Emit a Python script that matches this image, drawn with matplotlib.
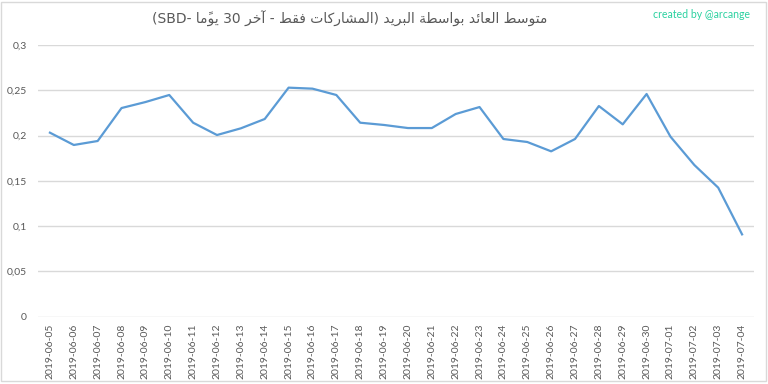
import matplotlib
matplotlib.use("Agg")
import matplotlib.pyplot as plt
from matplotlib.patches import Rectangle

dates = ["2019-06-05", "2019-06-06", "2019-06-07", "2019-06-08", "2019-06-09",
         "2019-06-10", "2019-06-11", "2019-06-12", "2019-06-13", "2019-06-14",
         "2019-06-15", "2019-06-16", "2019-06-17", "2019-06-18", "2019-06-19",
         "2019-06-20", "2019-06-21", "2019-06-22", "2019-06-23", "2019-06-24",
         "2019-06-25", "2019-06-26", "2019-06-27", "2019-06-28", "2019-06-29",
         "2019-06-30", "2019-07-01", "2019-07-02", "2019-07-03", "2019-07-04"]
values = [0.2032, 0.1896, 0.1940, 0.2304, 0.2370, 0.2448, 0.2142, 0.2006, 0.2080, 0.2183,
          0.2529, 0.2518, 0.2448, 0.2142, 0.2117, 0.2083, 0.2083, 0.2238, 0.2315, 0.1962,
          0.1929, 0.1826, 0.1962, 0.2326, 0.2124, 0.2459, 0.1988, 0.1675, 0.1425, 0.0909]
y_ticks = [0, 0.05, 0.1, 0.15, 0.2, 0.25, 0.3]
y_tick_labels = ["0", "0,05", "0,1", "0,15", "0,2", "0,25", "0,3"]
title_words = ["متوسط", "العائد", "بواسطة", "البريد", "(المشاركات", "فقط", "-", "آخر", "30", "يومًا", "-SBD)"]
credit = "created by @arcange"

# --- minimal Arabic shaping (presentation forms) since matplotlib has no shaper ---
FORMS = {  # isolated, final, initial, medial
    '\u0627': ('\uFE8D', '\uFE8E', None, None),
    '\u0622': ('\uFE81', '\uFE82', None, None),
    '\u0628': ('\uFE8F', '\uFE90', '\uFE91', '\uFE92'),
    '\u0629': ('\uFE93', '\uFE94', None, None),
    '\u062A': ('\uFE95', '\uFE96', '\uFE97', '\uFE98'),
    '\u062E': ('\uFEA5', '\uFEA6', '\uFEA7', '\uFEA8'),
    '\u062F': ('\uFEA9', '\uFEAA', None, None),
    '\u0631': ('\uFEAD', '\uFEAE', None, None),
    '\u0633': ('\uFEB1', '\uFEB2', '\uFEB3', '\uFEB4'),
    '\u0634': ('\uFEB5', '\uFEB6', '\uFEB7', '\uFEB8'),
    '\u0637': ('\uFEC1', '\uFEC2', '\uFEC3', '\uFEC4'),
    '\u0639': ('\uFEC9', '\uFECA', '\uFECB', '\uFECC'),
    '\u0641': ('\uFED1', '\uFED2', '\uFED3', '\uFED4'),
    '\u0642': ('\uFED5', '\uFED6', '\uFED7', '\uFED8'),
    '\u0643': ('\uFED9', '\uFEDA', '\uFEDB', '\uFEDC'),
    '\u0644': ('\uFEDD', '\uFEDE', '\uFEDF', '\uFEE0'),
    '\u0645': ('\uFEE1', '\uFEE2', '\uFEE3', '\uFEE4'),
    '\u0648': ('\uFEED', '\uFEEE', None, None),
    '\u064A': ('\uFEF1', '\uFEF2', '\uFEF3', '\uFEF4'),
    '\u0626': ('\uFE89', '\uFE8A', '\uFE8B', '\uFE8C'),
}


def shape_word(word):
    clusters = []
    for ch in word:
        if ch in FORMS or not clusters:
            clusters.append([ch])
        else:
            clusters[-1].append(ch)
    out = []
    for k, cl in enumerate(clusters):
        base = cl[0]
        f = FORMS[base]
        prev_joins = k > 0 and FORMS[clusters[k - 1][0]][2] is not None
        next_joins = k < len(clusters) - 1 and f[2] is not None
        if prev_joins and next_joins:
            g = f[3]
        elif prev_joins:
            g = f[1]
        elif next_joins:
            g = f[2]
        else:
            g = f[0]
        out.append(g + "".join(cl[1:]))
    return "".join(reversed(out))


def visual(word):
    arab = "".join(c for c in word if c in FORMS or '\u064B' <= c <= '\u0652')
    if not arab:
        return word
    return shape_word(arab)


# visual (left-to-right) order of the RTL title
title_vis = ("(SBD- " + visual(title_words[9]) + " 30 " + visual(title_words[7]) + " - "
             + visual(title_words[5]) + " " + visual(title_words[4]) + ") "
             + visual(title_words[3]) + " " + visual(title_words[2]) + " "
             + visual(title_words[1]) + " " + visual(title_words[0]))

fig = plt.figure(figsize=(7.68, 3.84), dpi=100)
fig.patch.set_facecolor("white")
fig.add_artist(Rectangle((0.5 / 768, 3.5 / 384), 765 / 768, 379 / 384, transform=fig.transFigure,
                         fill=False, edgecolor="#d9d9d9", linewidth=1.0))

ax = fig.add_axes([38 / 768, 1 - 316.7 / 384, 716 / 768, (316.7 - 45) / 384])
x = list(range(len(dates)))
ax.plot(x, values, color="#5b9bd5", linewidth=1.6, solid_joinstyle="round")
ax.set_xlim(-0.5, len(dates) - 0.5)
ax.set_ylim(0, 0.3)
ax.set_yticks(y_ticks)
ax.set_yticklabels(y_tick_labels)
ax.set_xticks(x)
ax.set_xticklabels(dates, rotation=90)
for s in ax.spines.values():
    s.set_visible(False)
ax.grid(axis="y", color="#d9d9d9", linewidth=1.0)
ax.set_axisbelow(True)
ax.tick_params(axis="both", length=0, labelsize=7.5, labelcolor="#595959")
ax.tick_params(axis="y", pad=8)
ax.tick_params(axis="x", pad=5)
for lab in ax.get_xticklabels() + ax.get_yticklabels():
    lab.set_family("Lato")

fig.text(350 / 768, 1 - 18.5 / 384, title_vis, ha="center", va="center", fontsize=10,
         color="#595959", family="DejaVu Sans")
fig.text(750 / 768, 1 - 14 / 384, credit, ha="right", va="center", fontsize=7.6,
         color="#2bd1a0", family="Lato")

fig.savefig("out.png", dpi=100)
